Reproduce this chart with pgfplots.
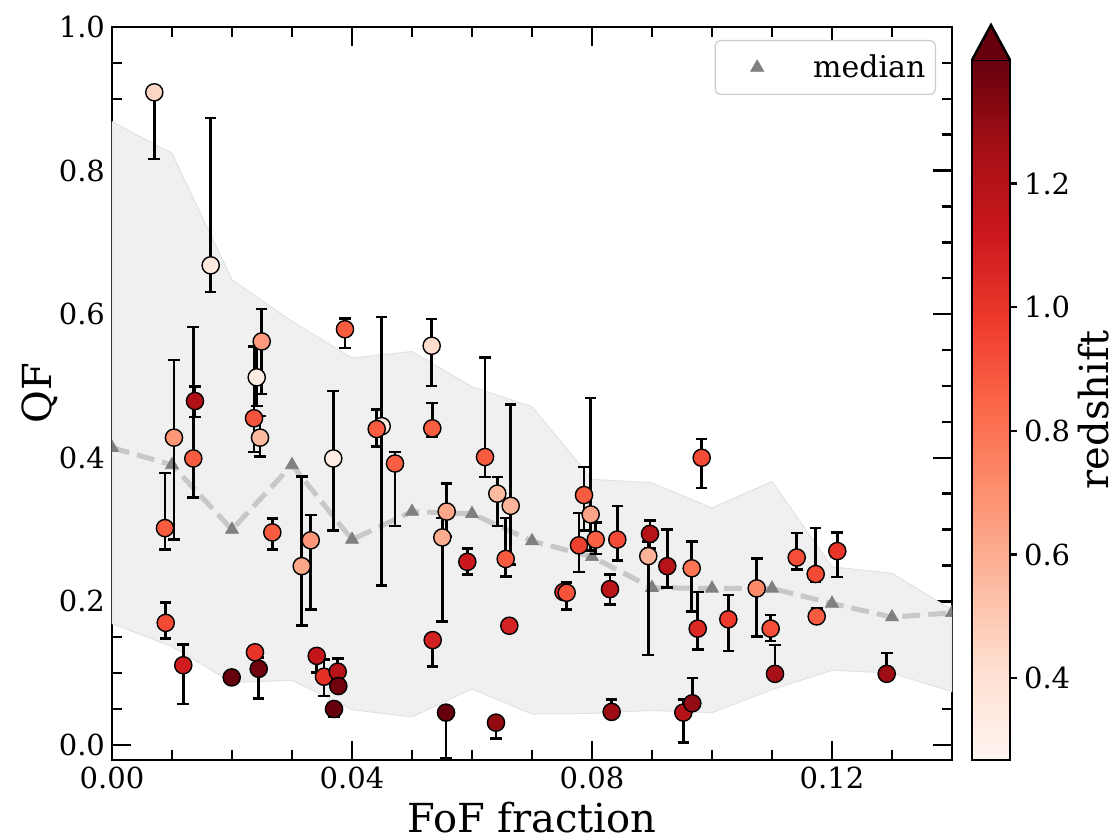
\documentclass[border=0pt]{standalone}
\usepackage{fontspec}
\setmainfont{DejaVu Serif}
\usepackage{pgfplots}
\usepackage{pgfplotstable}
\pgfplotsset{compat=1.18}
\definecolor{bandfill}{RGB}{240,240,240}
\definecolor{bandedge}{RGB}{226,226,226}
\definecolor{medline}{RGB}{200,200,200}
\definecolor{medmark}{RGB}{128,128,128}
\definecolor{cbover}{RGB}{103,0,13}
\pgfplotsset{colormap={reds}{rgb255=(255,245,240) rgb255=(254,224,210) rgb255=(252,187,161) rgb255=(252,146,114) rgb255=(251,106,74) rgb255=(239,59,44) rgb255=(203,24,29) rgb255=(165,15,21) rgb255=(103,0,13)}}

\pgfplotstableread{
x y ep em z
0.00705 0.909 0.000 0.093 0.45
0.01645 0.668 0.205 0.037 0.35
0.00883 0.302 0.077 0.030 0.88
0.01033 0.428 0.108 0.142 0.68
0.01383 0.479 0.020 0.022 1.22
0.01355 0.399 0.183 0.054 0.88
0.02495 0.562 0.045 0.073 0.66
0.02412 0.512 0.042 0.040 0.33
0.02367 0.455 0.100 0.047 0.90
0.02467 0.428 0.030 0.026 0.55
0.03883 0.579 0.015 0.026 0.88
0.03688 0.399 0.094 0.100 0.32
0.04495 0.444 0.152 0.222 0.33
0.04412 0.440 0.027 0.024 0.88
0.04717 0.392 0.016 0.087 0.87
0.02672 0.296 0.019 0.024 0.88
0.03162 0.249 0.125 0.083 0.62
0.03312 0.285 0.035 0.096 0.67
0.00895 0.170 0.028 0.022 0.93
0.01188 0.111 0.029 0.054 1.10
0.01995 0.094 0.000 0.000 1.40
0.02383 0.129 0.000 0.000 1.00
0.02445 0.106 0.016 0.041 1.38
0.03412 0.124 0.000 0.023 1.15
0.03533 0.095 0.024 0.027 1.02
0.03762 0.102 0.018 0.000 1.20
0.03700 0.050 0.000 0.011 1.40
0.03772 0.082 0.000 0.000 1.38
0.05328 0.556 0.037 0.056 0.42
0.05338 0.441 0.035 0.012 0.87
0.06217 0.401 0.139 0.028 0.88
0.06422 0.350 0.023 0.045 0.55
0.06645 0.333 0.141 0.082 0.57
0.05578 0.325 0.039 0.035 0.62
0.05505 0.289 0.027 0.117 0.60
0.05922 0.255 0.019 0.018 1.12
0.06562 0.259 0.057 0.024 0.88
0.07867 0.348 0.039 0.049 0.88
0.07978 0.321 0.162 0.050 0.63
0.07783 0.278 0.045 0.037 0.96
0.08062 0.286 0.024 0.020 0.86
0.08422 0.286 0.047 0.029 0.93
0.08967 0.294 0.019 0.020 1.20
0.08938 0.263 0.020 0.138 0.58
0.09255 0.249 0.051 0.030 1.20
0.05345 0.146 0.000 0.037 1.08
0.06622 0.166 0.000 0.000 1.08
0.05567 0.045 0.000 0.064 1.40
0.06400 0.031 0.000 0.022 1.30
0.08328 0.046 0.017 0.000 1.28
0.07525 0.213 0.000 0.000 1.00
0.07578 0.212 0.014 0.023 0.90
0.08300 0.217 0.020 0.021 1.18
0.09828 0.400 0.026 0.042 0.93
0.09662 0.246 0.037 0.060 0.80
0.10745 0.218 0.042 0.067 0.72
0.11412 0.261 0.034 0.017 0.92
0.11728 0.238 0.064 0.011 0.93
0.12088 0.270 0.026 0.036 1.00
0.09762 0.162 0.051 0.029 1.05
0.10272 0.175 0.034 0.044 0.98
0.10978 0.162 0.019 0.017 0.92
0.11745 0.179 0.011 0.000 0.88
0.11050 0.099 0.040 0.000 1.25
0.12912 0.099 0.029 0.000 1.28
0.09522 0.045 0.018 0.042 1.20
0.09672 0.058 0.035 0.000 1.30
}\pts

\begin{document}
\begin{tikzpicture}
\begin{axis}[
  at={(0,0)}, anchor=south west,
  scale only axis, width=420pt, height=366.5pt,
  xmin=0, xmax=0.14, ymin=-0.021, ymax=1.0,
  xtick={0,0.04,0.08,0.12}, ytick={0,0.2,0.4,0.6,0.8,1.0},
  minor xtick={0.01,0.02,0.03,0.05,0.06,0.07,0.09,0.10,0.11,0.13},
  minor ytick={0.05,0.1,0.15,0.25,0.3,0.35,0.45,0.5,0.55,0.65,0.7,0.75,0.85,0.9,0.95},
  tick align=inside,
  major tick length=9.5pt, minor tick length=5pt,
  tick style={black, line width=1.2pt},
  axis line style={line width=1.25pt},
  /pgf/number format/assume math mode=true,
  tick label style={font=\fontsize{14.5}{17}\selectfont},
  xticklabel style={/pgf/number format/.cd, fixed, fixed zerofill, precision=2},
  yticklabel style={/pgf/number format/.cd, fixed, fixed zerofill, precision=1},
  xlabel={FoF fraction}, ylabel={QF},
  label style={font=\fontsize{20}{24}\selectfont},
  xlabel style={at={(axis description cs:0.5,-0.078)}, anchor=center},
  ylabel style={at={(axis description cs:-0.0857,0.5)}, anchor=center},
  clip marker paths=true,
  colormap name=reds,
  point meta min=0.2675, point meta max=1.40,
  colorbar,
  colorbar shift/.style={},
  colorbar/width=19pt,
  colorbar style={
    at={(430pt,0pt)}, anchor=south west,
    xmin=0, xmax=1, enlargelimits=false,
    minor xtick={}, xtick=\empty,
    scale only axis, width=19pt, height=350pt,
    ytick={0.4,0.6,0.8,1.0,1.2}, minor ytick={},
    ytick pos=right, yticklabel pos=right,
    tick align=outside, major tick length=3.5pt,
    tick style={black, line width=1.2pt},
    axis line style={line width=1.25pt},
    /pgf/number format/assume math mode=true,
    yticklabel style={font=\fontsize{14.5}{17}\selectfont, /pgf/number format/.cd, fixed, fixed zerofill, precision=1},
    ylabel={redshift},
    ylabel style={font=\fontsize{20}{24}\selectfont, at={(axis description cs:3.2,0.5)}, anchor=center},
    after end axis/.append code={\draw[fill=cbover, line width=1.25pt, line join=miter] (rel axis cs:0,1) -- (rel axis cs:0.5,1.05) -- (rel axis cs:1,1);}
  },
  legend style={at={(1,1)}, anchor=north east, xshift=-8pt, yshift=-6.5pt,
    draw=black!20, rounded corners=2.5pt, line width=0.6pt, fill=white,
    font=\fontsize{15}{18}\selectfont, inner xsep=3pt, inner ysep=5pt,
    nodes={inner xsep=2pt}},
]
\addplot[forget plot, fill=bandfill, draw=bandedge, line width=0.5pt] coordinates {
 (0,0.868) (0.01,0.824) (0.02,0.648) (0.03,0.590) (0.04,0.539) (0.05,0.548) (0.06,0.499) (0.07,0.471)
 (0.08,0.370) (0.09,0.365) (0.10,0.330) (0.11,0.367) (0.12,0.248) (0.13,0.239) (0.14,0.188)
 (0.14,0.074) (0.13,0.100) (0.12,0.104) (0.11,0.077) (0.10,0.045) (0.09,0.048) (0.08,0.044)
 (0.07,0.043) (0.06,0.078) (0.05,0.039) (0.04,0.049) (0.03,0.090) (0.02,0.087) (0.01,0.137) (0,0.169)
} -- cycle;
\addplot[forget plot, medline, line width=2.5pt, dash pattern=on 9pt off 4pt] coordinates {
 (0,0.414) (0.01,0.39) (0.02,0.30) (0.03,0.39) (0.04,0.286) (0.05,0.325) (0.06,0.322) (0.07,0.284)
 (0.08,0.262) (0.09,0.219) (0.10,0.218) (0.11,0.218) (0.12,0.197) (0.13,0.178) (0.14,0.184)
};
\addplot[only marks, mark=triangle*, mark size=3.8pt, color=medmark, mark options={fill=medmark, draw=medmark, line width=0.3pt},
  legend image code/.code={\path[draw=none, fill=none] (0pt,-3pt) rectangle (44pt,3pt); \draw plot coordinates {(18pt,0pt)};}] coordinates {
 (0,0.414) (0.01,0.39) (0.02,0.30) (0.03,0.39) (0.04,0.286) (0.05,0.325) (0.06,0.322) (0.07,0.284)
 (0.08,0.262) (0.09,0.219) (0.10,0.218) (0.11,0.218) (0.12,0.197) (0.13,0.178) (0.14,0.184)
};
\addlegendentry{median}
\addplot[forget plot, only marks, mark=none, black,
  error bars/.cd, y dir=both, y explicit,
  error bar style={line width=1.3pt, black},
  error mark options={rotate=90, line width=1.3pt, black, mark size=2.9pt}]
  table[x=x, y=y, y error plus=ep, y error minus=em] {\pts};
\addplot[forget plot, scatter, only marks, mark=*, mark size=4.3pt, scatter src=explicit,
  scatter/use mapped color={draw=black, fill=mapped color, line width=0.7pt}]
  table[x=x, y=y, meta=z] {\pts};
\end{axis}
\pgfresetboundingbox
\path[use as bounding box] (-56pt,-40pt) rectangle (502pt,380pt);
\end{tikzpicture}
\end{document}
